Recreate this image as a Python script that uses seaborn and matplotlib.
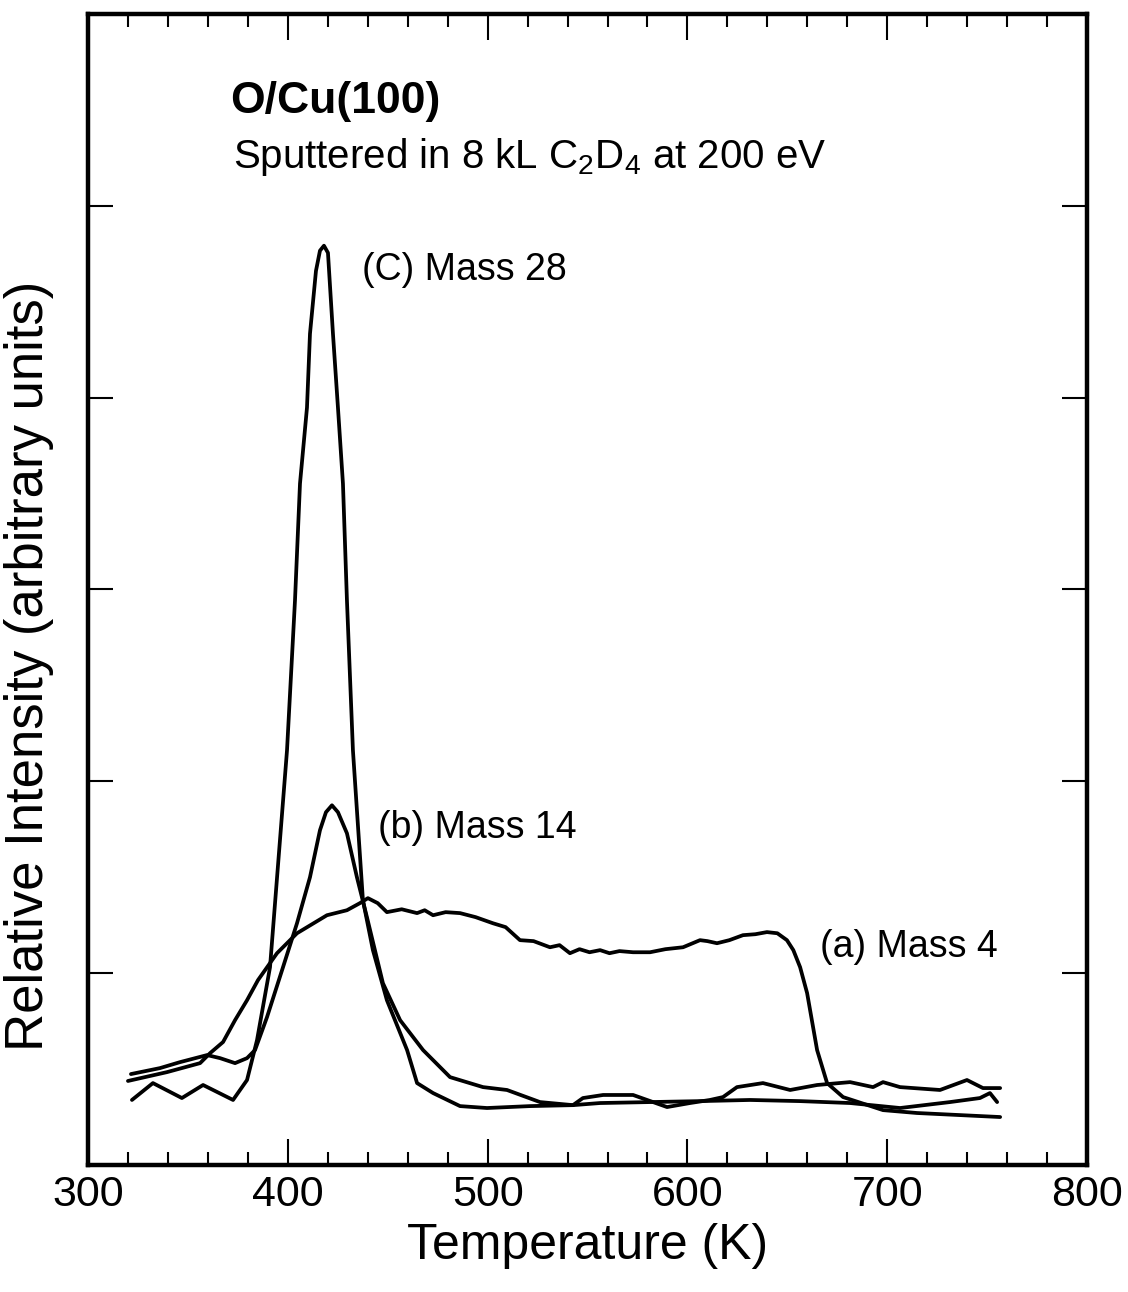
import numpy as np
import pandas as pd
import matplotlib
matplotlib.use("Agg")
import matplotlib.pyplot as plt
import seaborn as sns
from matplotlib.ticker import MultipleLocator

# ---- data ----
t_m28 = [322.0, 332.5, 347.0, 357.6, 372.6, 379.6, 384.6, 391.1, 399.6, 403.6, 406.1, 409.6, 411.1,
         414.1, 416.1, 418.1, 420.1, 422.6, 425.1, 427.6, 429.6, 432.6, 437.6, 442.6, 449.6, 459.7,
         464.7, 472.7, 486.2, 499.7, 521.2, 542.7, 556.3, 581.3, 606.3, 631.3, 656.4, 681.4, 706.4,
         731.4, 746.4, 751.4, 755.0]
i_m28 = [0.339, 0.427, 0.349, 0.417, 0.339, 0.443, 0.651, 1.031, 2.161, 2.943, 3.552, 3.948, 4.333,
         4.661, 4.766, 4.792, 4.755, 4.333, 3.948, 3.552, 2.943, 2.161, 1.380, 1.120, 0.859, 0.599,
         0.427, 0.375, 0.307, 0.297, 0.307, 0.312, 0.323, 0.328, 0.333, 0.339, 0.333, 0.323, 0.297,
         0.328, 0.349, 0.375, 0.328]

t_m14 = [321.5, 336.0, 346.0, 359.6, 366.1, 373.6, 379.6, 383.6, 389.6, 397.6, 404.6, 411.1, 416.1,
         419.1, 422.1, 425.1, 429.6, 434.6, 439.6, 447.6, 456.2, 467.7, 481.2, 497.7, 509.7, 526.2,
         542.7, 547.7, 557.8, 572.8, 589.8, 601.3, 611.3, 617.8, 624.8, 637.8, 651.4, 664.9, 681.4,
         692.9, 697.9, 706.4, 726.4, 739.9, 747.9, 756.5]
i_m14 = [0.474, 0.505, 0.536, 0.573, 0.557, 0.531, 0.557, 0.599, 0.771, 1.031, 1.260, 1.500, 1.745,
         1.839, 1.875, 1.839, 1.729, 1.500, 1.292, 0.948, 0.755, 0.599, 0.458, 0.406, 0.391, 0.328,
         0.312, 0.349, 0.365, 0.365, 0.302, 0.323, 0.339, 0.354, 0.406, 0.427, 0.391, 0.417, 0.432,
         0.406, 0.432, 0.406, 0.391, 0.443, 0.401, 0.401]

t_m4 = [320.0, 339.5, 356.1, 361.1, 367.6, 373.6, 379.6, 385.1, 394.6, 404.6, 419.6, 429.6, 436.1,
        440.1, 445.0, 449.6, 457.0, 464.7, 468.5, 472.7, 479.0, 486.2, 494.0, 502.7, 509.0, 516.2,
        523.0, 531.2, 536.0, 541.2, 546.0, 551.0, 556.3, 561.0, 566.0, 572.8, 581.3, 589.0, 597.8,
        606.3, 610.0, 614.8, 621.0, 627.8, 634.0, 639.8, 645.0, 649.8, 653.0, 656.4, 659.9, 664.9,
        669.9, 677.9, 697.9, 714.9, 756.5]
i_m4 = [0.438, 0.484, 0.531, 0.583, 0.641, 0.755, 0.859, 0.964, 1.104, 1.208, 1.302, 1.328, 1.365,
        1.391, 1.365, 1.318, 1.333, 1.313, 1.328, 1.302, 1.318, 1.313, 1.292, 1.260, 1.240, 1.172,
        1.167, 1.135, 1.146, 1.104, 1.125, 1.109, 1.120, 1.104, 1.115, 1.109, 1.109, 1.125, 1.135,
        1.172, 1.167, 1.156, 1.172, 1.198, 1.203, 1.214, 1.208, 1.172, 1.120, 1.031, 0.896, 0.599,
        0.427, 0.354, 0.286, 0.271, 0.250]

x_ticks = [300, 400, 500, 600, 700, 800]
y_ticks = [1, 2, 3, 4, 5]

title = "O/Cu(100)"
subtitle = "Sputtered in 8 kL C$_2$D$_4$ at 200 eV"
labels = {"m28": "(C) Mass 28", "m14": "(b) Mass 14", "m4": "(a) Mass 4"}

# ---- plot ----
sns.set_style("ticks")
plt.rcParams['font.family'] = ['Liberation Sans', 'DejaVu Sans']
plt.rcParams['mathtext.fontset'] = 'custom'
plt.rcParams['mathtext.rm'] = 'Liberation Sans'
plt.rcParams['mathtext.it'] = 'Liberation Sans'
plt.rcParams['text.color'] = 'black'
plt.rcParams['axes.labelcolor'] = 'black'
plt.rcParams['xtick.color'] = 'black'
plt.rcParams['ytick.color'] = 'black'
plt.rcParams['axes.edgecolor'] = 'black'

fig = plt.figure(figsize=(11.28, 12.92), dpi=100)
ax = fig.add_axes([0.078, 0.0983, 0.8857, 0.8909])

for t, v in [(t_m28, i_m28), (t_m14, i_m14), (t_m4, i_m4)]:
    df = pd.DataFrame({"T": t, "I": v})
    sns.lineplot(data=df, x="T", y="I", ax=ax, color="black", lw=2.7, sort=False,
                 estimator=None, solid_joinstyle='round', solid_capstyle='round')

ax.set_xlim(300, 800)
ax.set_ylim(0, 6)
ax.set_xticks(x_ticks)
ax.xaxis.set_minor_locator(MultipleLocator(20))
ax.set_yticks(y_ticks)
ax.set_yticklabels([])
ax.tick_params(axis='x', which='major', direction='in', length=19, width=1.5,
               top=True, bottom=True, labelsize=31, pad=7)
ax.tick_params(axis='x', which='minor', direction='in', length=9.5, width=1.5, top=True, bottom=True)
ax.tick_params(axis='y', which='major', direction='in', length=18, width=1.5, left=True, right=True)
for s in ax.spines.values():
    s.set_linewidth(3.2)
    s.set_visible(True)

ax.set_xlabel("Temperature (K)", fontsize=36, labelpad=6)
ax.set_ylabel("Relative Intensity (arbitrary units)", fontsize=38)
ax.yaxis.set_label_coords(-0.034, 0.434)

ax.text(0.142, 0.914, title, transform=ax.transAxes, fontsize=32, fontweight='bold', va='baseline')
ax.text(0.145, 0.866, subtitle, transform=ax.transAxes, fontsize=29, va='baseline')
ax.text(0.274, 0.769, labels["m28"], transform=ax.transAxes, fontsize=27, va='baseline')
ax.text(0.290, 0.284, labels["m14"], transform=ax.transAxes, fontsize=27, va='baseline')
ax.text(0.733, 0.181, labels["m4"], transform=ax.transAxes, fontsize=27, va='baseline')

fig.savefig("out.png", dpi=100)
